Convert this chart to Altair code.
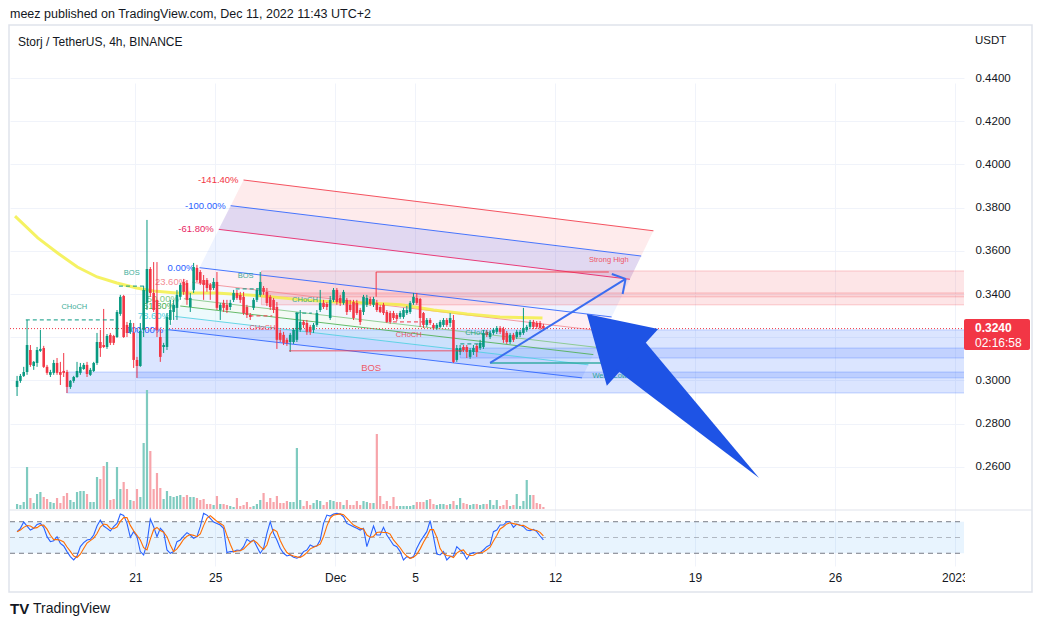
import altair as alt
import pandas as pd

FONT = "Liberation Sans"
TEXT = "#131722"
GREEN = "#089981"
RED = "#f23645"
BLUE = "#2962ff"

# ---------------- candles (4h, STORJ/USDT) ----------------
FIRST_DAY = 15 + 2 / 24          # Nov 15, 02:00 (x unit = day of November, Dec 1 = 31)
STEP_DAYS = 4 / 24

OPEN = [
    .2970, .2998, .3021, .3039, .3141, .3067, .3081, .3137, .3150, .3063,
    .3026, .3035, .3081, .3039, .3044, .3039, .2970, .2998, .3016, .3035,
    .3053, .3072, .3026, .3044, .3081, .3178, .3164, .3155, .3211, .3206,
    .3201, .3308, .3391, .3257, .3225, .3220, .3095, .3067, .3234, .3359,
    .3516, .3405, .3373, .3201, .3155, .3155, .3280, .3317, .3336, .3387,
    .3456, .3451, .3340, .3419, .3521, .3502, .3465, .3465, .3442, .3428,
    .3456, .3326, .3359, .3350, .3340, .3373, .3405, .3396, .3387, .3340,
    .3303, .3336, .3373, .3396, .3428, .3410, .3387, .3373, .3340, .3220,
    .3211, .3188, .3178, .3178, .3188, .3234, .3271, .3266, .3248, .3234,
    .3257, .3326, .3359, .3354, .3289, .3373, .3419, .3382, .3359, .3373,
    .3350, .3363, .3359, .3326, .3317, .3350, .3377, .3350, .3359, .3340,
    .3350, .3317, .3312, .3312, .3303, .3294, .3294, .3312, .3317, .3359,
    .3382, .3377, .3312, .3257, .3280, .3257, .3243, .3248, .3257, .3280,
    .3266, .3280, .3095, .3132, .3155, .3155, .3109, .3132, .3160, .3150,
    .3155, .3225, .3201, .3220, .3225, .3243, .3238, .3220, .3178, .3211,
    .3201, .3211, .3220, .3234, .3248, .3271, .3266, .3266, .3252,
]
CLOSE = [
    .2998, .3021, .3039, .3164, .3072, .3086, .3141, .3146, .3063, .3035,
    .3039, .3081, .3035, .3026, .3035, .2970, .2998, .3016, .3044, .3063,
    .3072, .3030, .3049, .3081, .3178, .3150, .3155, .3206, .3174, .3174,
    .3317, .3387, .3201, .3220, .3266, .3095, .3067, .3229, .3419, .3516,
    .3405, .3326, .3234, .3109, .3164, .3294, .3326, .3350, .3396, .3442,
    .3410, .3373, .3382, .3525, .3465, .3451, .3442, .3428, .3419, .3456,
    .3336, .3350, .3336, .3326, .3359, .3405, .3382, .3373, .3312, .3303,
    .3294, .3373, .3419, .3456, .3410, .3359, .3340, .3326, .3188, .3188,
    .3174, .3174, .3211, .3234, .3312, .3271, .3257, .3225, .3225, .3257,
    .3312, .3359, .3340, .3340, .3373, .3419, .3363, .3359, .3410, .3317,
    .3326, .3289, .3312, .3271, .3387, .3382, .3354, .3377, .3326, .3317,
    .3312, .3271, .3271, .3289, .3285, .3312, .3326, .3326, .3359, .3387,
    .3359, .3289, .3257, .3280, .3266, .3243, .3257, .3271, .3280, .3257,
    .3289, .3086, .3150, .3150, .3141, .3132, .3141, .3150, .3132, .3174,
    .3220, .3211, .3220, .3234, .3243, .3225, .3188, .3178, .3211, .3188,
    .3225, .3225, .3243, .3248, .3271, .3248, .3248, .3243, .3240,
]
HIGH = [
    .3021, .3030, .3063, .3280, .3164, .3090, .3155, .3234, .3160, .3072,
    .3049, .3095, .3104, .3086, .3127, .3049, .3002, .3021, .3086, .3081,
    .3081, .3086, .3058, .3086, .3220, .3234, .3331, .3215, .3220, .3211,
    .3326, .3396, .3396, .3271, .3280, .3266, .3109, .3266, .3437, .3743,
    .3525, .3548, .3548, .3234, .3174, .3312, .3373, .3373, .3419, .3451,
    .3470, .3465, .3405, .3544, .3535, .3511, .3488, .3474, .3451, .3474,
    .3502, .3359, .3373, .3373, .3373, .3419, .3419, .3410, .3410, .3350,
    .3312, .3382, .3428, .3502, .3437, .3428, .3396, .3382, .3363, .3234,
    .3225, .3197, .3220, .3243, .3317, .3326, .3280, .3280, .3257, .3266,
    .3326, .3419, .3373, .3363, .3391, .3428, .3428, .3396, .3419, .3382,
    .3373, .3373, .3373, .3336, .3396, .3396, .3387, .3387, .3373, .3350,
    .3359, .3326, .3322, .3322, .3312, .3322, .3336, .3345, .3368, .3405,
    .3405, .3382, .3317, .3289, .3289, .3266, .3266, .3280, .3289, .3289,
    .3312, .3303, .3164, .3164, .3164, .3164, .3150, .3164, .3169, .3188,
    .3234, .3234, .3229, .3243, .3252, .3252, .3248, .3229, .3220, .3220,
    .3234, .3234, .3336, .3257, .3280, .3280, .3275, .3275, .3262,
]
LOW = [
    .2928, .2989, .3016, .3026, .3063, .3049, .3063, .3132, .3058, .3026,
    .3016, .3026, .3026, .2979, .3016, .2942, .2961, .2989, .3012, .3026,
    .3049, .3016, .3021, .3039, .3072, .3109, .3150, .3146, .3164, .3164,
    .3197, .3299, .3197, .3201, .3215, .3058, .3012, .3063, .3201, .3326,
    .3387, .3317, .3201, .3086, .3127, .3141, .3257, .3280, .3280, .3373,
    .3396, .3350, .3317, .3405, .3456, .3442, .3373, .3410, .3373, .3419,
    .3326, .3280, .3317, .3312, .3326, .3363, .3373, .3359, .3303, .3289,
    .3280, .3326, .3363, .3387, .3396, .3345, .3326, .3312, .3146, .3178,
    .3164, .3160, .3132, .3169, .3178, .3225, .3243, .3211, .3211, .3220,
    .3248, .3317, .3331, .3326, .3280, .3363, .3350, .3345, .3350, .3303,
    .3317, .3280, .3303, .3257, .3303, .3340, .3345, .3340, .3317, .3312,
    .3303, .3266, .3262, .3280, .3275, .3285, .3285, .3303, .3308, .3350,
    .3350, .3248, .3243, .3248, .3257, .3234, .3234, .3243, .3248, .3248,
    .3248, .3081, .3086, .3118, .3132, .3104, .3100, .3118, .3109, .3141,
    .3146, .3201, .3192, .3211, .3215, .3215, .3174, .3169, .3169, .3178,
    .3192, .3201, .3211, .3225, .3238, .3238, .3238, .3234, .3229,
]
VOLUME_K = [
    50, 40, 70, 420, 110, 60, 150, 170, 120, 100,
    70, 60, 110, 60, 130, 160, 90, 70, 170, 180,
    180, 150, 70, 70, 320, 300, 430, 470, 90, 100,
    420, 200, 270, 200, 90, 80, 200, 120, 660, 1190,
    580, 200, 360, 210, 100, 180, 130, 120, 130, 140,
    120, 140, 120, 120, 110, 90, 100, 50, 50, 40,
    130, 50, 50, 40, 30, 20, 110, 30, 40, 70,
    20, 30, 50, 90, 160, 70, 110, 70, 130, 60,
    60, 80, 70, 70, 610, 90, 30, 80, 40, 60,
    90, 80, 40, 70, 90, 80, 70, 70, 40, 90,
    40, 40, 80, 40, 80, 70, 60, 60, 750, 130,
    50, 80, 30, 120, 30, 30, 30, 30, 30, 40,
    70, 70, 70, 90, 100, 50, 40, 50, 50, 40,
    50, 80, 40, 110, 60, 50, 40, 50, 50, 40,
    50, 50, 90, 40, 90, 30, 40, 90, 30, 40,
    150, 30, 80, 290, 140, 140, 60, 50, 20,
]
STOCH_K = [
    61.1, 67.4, 79.4, 71.8, 64.2, 67.4, 74.9, 76.8, 69.3, 51.6,
    42.1, 44.0, 51.6, 38.9, 33.9, 23.2, 13.7, 7.4, 14.9, 32.6,
    40.2, 45.3, 46.5, 54.7, 71.8, 83.2, 71.8, 67.4, 62.3, 70.5,
    76.8, 94.5, 92.0, 76.8, 50.3, 61.1, 51.6, 23.2, 16.8, 38.9,
    85.1, 70.5, 51.6, 67.4, 61.1, 26.3, 20.0, 23.2, 42.1, 45.3,
    52.8, 59.2, 54.7, 48.4, 51.6, 70.5, 95.8, 92.6, 86.3, 79.4,
    76.8, 73.7, 67.4, 21.3, 23.2, 23.2, 26.3, 25.1, 32.6, 46.5,
    42.1, 45.3, 32.6, 20.0, 29.5, 57.9, 80.0, 57.9, 45.3, 29.5,
    20.0, 14.9, 16.8, 12.4, 10.5, 13.7, 23.2, 26.3, 35.8, 32.6,
    33.9, 45.3, 76.8, 92.6, 90.7, 94.5, 95.8, 94.5, 89.5, 76.8,
    73.7, 70.5, 67.4, 64.2, 67.4, 32.6, 51.6, 71.8, 54.7, 54.7,
    69.3, 54.7, 45.3, 35.8, 32.6, 23.2, 7.4, 13.7, 10.5, 13.7,
    29.5, 42.1, 51.6, 61.1, 81.9, 51.6, 18.7, 16.8, 23.2, 7.4,
    13.7, 14.9, 32.6, 26.3, 20.0, 8.6, 18.7, 21.3, 20.0, 21.3,
    26.3, 32.6, 35.8, 61.1, 64.2, 73.7, 73.7, 80.0, 80.0, 69.3,
    75.6, 73.7, 70.5, 64.2, 62.9, 65.5, 61.1, 52.8, 45.3,
]
STOCH_D = [
    61.1, 64.3, 69.3, 72.9, 71.8, 67.8, 68.8, 73.0, 73.7, 65.9,
    54.3, 45.9, 45.9, 44.8, 41.5, 32.0, 23.6, 14.8, 12.0, 18.3,
    29.2, 39.4, 44.0, 48.8, 57.7, 69.9, 75.6, 74.1, 67.2, 66.7,
    69.9, 80.6, 87.8, 87.8, 73.0, 62.7, 54.3, 45.3, 30.5, 26.3,
    46.9, 64.8, 69.1, 63.2, 60.0, 51.6, 35.8, 23.2, 28.4, 36.9,
    46.7, 52.4, 55.6, 54.1, 51.6, 56.8, 72.6, 86.3, 91.6, 86.1,
    80.8, 76.6, 72.6, 54.1, 37.3, 22.6, 24.2, 24.9, 28.0, 34.7,
    40.4, 44.6, 40.0, 32.6, 27.4, 35.8, 55.8, 65.3, 61.1, 44.2,
    31.6, 21.5, 17.2, 14.7, 13.2, 12.2, 15.8, 21.1, 28.4, 31.6,
    34.1, 37.3, 52.0, 71.6, 86.7, 92.6, 93.7, 94.9, 93.3, 86.9,
    80.0, 73.7, 70.5, 67.4, 66.3, 54.7, 50.5, 52.0, 59.4, 60.4,
    59.6, 59.6, 56.4, 45.3, 37.9, 30.5, 21.1, 14.8, 10.5, 12.6,
    17.9, 28.4, 41.1, 51.6, 64.9, 64.9, 50.7, 29.0, 19.6, 15.8,
    14.8, 12.0, 20.4, 24.6, 26.3, 18.3, 15.8, 16.2, 20.0, 20.9,
    22.5, 26.7, 31.6, 43.2, 53.7, 66.3, 70.5, 75.8, 77.9, 76.4,
    75.0, 72.9, 73.3, 69.5, 65.9, 64.2, 63.2, 59.8, 53.1,
]

# yellow moving average (sampled along its course)
MA_DAY = [14.98, 16.12, 17.11, 18.10, 19.09, 20.08, 21.07, 21.91, 23.05, 25.03,
          27.36, 29.34, 30.97, 32.65, 34.29, 35.92, 37.60, 39.24, 41.37]
MA_PRICE = [.3761, .3660, .3590, .3525, .3479, .3451, .3428, .3414, .3405, .3405,
            .3391, .3373, .3363, .3359, .3350, .3326, .3308, .3294, .3289]

LAST_PRICE = 0.3240
COUNTDOWN = "02:16:58"

# axis ticks
TICK_DAYS = [21, 25, 31, 35, 42, 49, 56, 62]
TICK_LABELS = ["21", "25", "Dec", "5", "12", "19", "26", "2023"]
PRICE_TICKS = [0.26, 0.28, 0.30, 0.32, 0.34, 0.36, 0.38, 0.40, 0.42, 0.44]
HIDDEN_PRICE_LABEL = 0.32          # covered by the last-price tag
STOCH_BANDS = [80, 20]
STOCH_MID = [50]

# fib channel: 0% and 100% anchor lines (start, end)
FIB0_DAY = [24.21, 44.83]
FIB0_PRICE = [.3522, .3294]
FIB1_DAY = [22.65, 43.35]
FIB1_PRICE = [.3235, .3012]
FIB_LEVELS = [-1.414, -1.0, -0.618, 0.0, 0.236, 0.5, 0.618, 0.786, 1.0]
FIB_LABELS = ["-141.40%", "-100.00%", "-61.80%", "0.00%", "23.60%", "50.00%", "61.80%", "78.60%", "100.00%"]
FIB_COLORS = ["#f23645", "#2962ff", "#e91e63", "#2962ff", "#f28b93", "#81c784", "#4caf50", "#4dd0e1", "#2962ff"]
FIB_FILL_COLORS = ["#f23645", "#673ab7", "#2962ff", "#e91e63", "#2962ff", "#4caf50", "#00bcd4", "#2962ff"]
FIB_FILL_OPACITY = [0.10, 0.20, 0.08, 0.07, 0.05, 0.06, 0.07, 0.10]

# zones (supply / demand boxes extending right)
ZONE_START = [27.31, 27.31, 21.07, 17.56, 37.26]
ZONE_TOP = [.3507, .3405, .3234, .3039, .3150]
ZONE_BOTTOM = [.3350, .3387, .3012, .2942, .3104]
ZONE_COLOR = [RED, RED, BLUE, BLUE, BLUE]
ZONE_OPACITY = [0.13, 0.10, 0.17, 0.17, 0.14]

# structure lines (dashed)
DASH_DAY0 = [15.52, 20.18, 26.02, 29.00, 26.71, 33.89, 37.26]
DASH_DAY1 = [20.03, 21.56, 27.21, 29.83, 27.85, 35.63, 38.40]
DASH_PRICE = [.3280, .3437, .3424, .3312, .3299, .3271, .3169]
DASH_COLOR = [GREEN, GREEN, GREEN, GREEN, RED, RED, GREEN]

# solid lines: BOS, weak low, strong high (h + v), thin blue arrow (shaft + 2 arms)
LINE_DAY0 = [28.69, 38.75, 33.05, 33.05, 38.75, 45.53, 45.53]
LINE_DAY1 = [37.41, 44.69, 44.69, 33.05, 45.53, 44.84, 45.38]
LINE_PRICE0 = [.3137, .3081, .3502, .3502, .3081, .3470, .3470]
LINE_PRICE1 = [.3137, .3081, .3502, .3387, .3470, .3493, .3400]
LINE_COLOR = [RED, "#26a69a", RED, RED, "#3a6df0", "#3a6df0", "#3a6df0"]
LINE_WIDTH = [1.5, 1.5, 1.2, 1.2, 2.0, 2.0, 2.0]
LINE_OPACITY = [0.55, 0.9, 0.85, 0.85, 1.0, 1.0, 1.0]

LABEL_TEXT = ["CHoCH", "BOS", "BOS", "CHoCH", "CHoCH", "CHoCH", "CHoCH", "BOS", "Weak Low", "Strong High"]
LABEL_DAY = [17.95, 20.82, 26.52, 29.49, 27.36, 34.68, 38.15, 32.80, 44.74, 44.69]
LABEL_PRICE = [.3340, .3498, .3484, .3373, .3243, .3211, .3220, .3058, .3021, .3558]
LABEL_COLOR = [GREEN, GREEN, GREEN, GREEN, RED, RED, GREEN, RED, GREEN, RED]
LABEL_SIZE = [7.5, 7.5, 7.5, 7.5, 7.5, 7.5, 7.5, 9.5, 7.5, 7.5]

# big filled arrow: tip, right wing, right notch, tail, left notch, left wing
BIG_ARROW_DAY = [43.59, 47.16, 46.47, 52.21, 45.08, 44.59]
BIG_ARROW_PRICE = [.3308, .3238, .3183, .2549, .3049, .2975]

# ---------------- build tables ----------------
N = len(OPEN)
candles = pd.DataFrame({
    "day": [FIRST_DAY + i * STEP_DAYS for i in range(N)],
    "open": OPEN, "close": CLOSE,
    "high": [max(h, o, c) for h, o, c in zip(HIGH, OPEN, CLOSE)],
    "low": [min(l, o, c) for l, o, c in zip(LOW, OPEN, CLOSE)],
    "vol": VOLUME_K, "k": STOCH_K, "d": STOCH_D,
})
candles["col"] = [GREEN if c >= o else RED for o, c in zip(OPEN, CLOSE)]
candles["vcol"] = ["#7fcbc0" if c >= o else "#f7a4aa" for o, c in zip(OPEN, CLOSE)]


def fib_point(level, idx):
    d = FIB0_DAY[idx] + level * (FIB1_DAY[idx] - FIB0_DAY[idx])
    p = FIB0_PRICE[idx] + level * (FIB1_PRICE[idx] - FIB0_PRICE[idx])
    return d, p


fib_rows = []
for lv, lab, col in zip(FIB_LEVELS, FIB_LABELS, FIB_COLORS):
    d0, p0 = fib_point(lv, 0)
    d1, p1 = fib_point(lv, 1)
    fib_rows.append(dict(d0=d0, p0=p0, d1=d1, p1=p1, label=lab, color=col))
fib_df = pd.DataFrame(fib_rows)


def polygon_rows(pid, pts, color, op):
    xs = sorted(set(p[0] for p in pts))
    rows = []
    n = len(pts)
    for x in xs:
        ys = []
        for i in range(n):
            (x1, y1), (x2, y2) = pts[i], pts[(i + 1) % n]
            if min(x1, x2) - 1e-9 <= x <= max(x1, x2) + 1e-9:
                if abs(x2 - x1) < 1e-12:
                    ys += [y1, y2]
                else:
                    ys.append(y1 + (y2 - y1) * (x - x1) / (x2 - x1))
        rows.append(dict(pid=pid, day=x, top=max(ys), bottom=min(ys), color=color, op=op))
    return rows


fill_rows = []
for i in range(len(FIB_LEVELS) - 1):
    a, b = FIB_LEVELS[i], FIB_LEVELS[i + 1]
    pts = [fib_point(a, 0), fib_point(a, 1), fib_point(b, 1), fib_point(b, 0)]
    fill_rows += polygon_rows(f"f{i}", pts, FIB_FILL_COLORS[i], FIB_FILL_OPACITY[i])
fill_df = pd.DataFrame(fill_rows)

A = list(zip(BIG_ARROW_DAY, BIG_ARROW_PRICE))
arrow_rows = polygon_rows("head", [A[0], A[1], A[5]], "#1e53e5", 1.0)
arrow_rows += polygon_rows("shaft", [A[4], A[2], A[3]], "#1e53e5", 1.0)
arrow_df = pd.DataFrame(arrow_rows)

zone_df = pd.DataFrame({"start": ZONE_START, "end": [70] * len(ZONE_START), "top": ZONE_TOP,
                        "bottom": ZONE_BOTTOM, "color": ZONE_COLOR, "op": ZONE_OPACITY})
dash_df = pd.DataFrame({"d0": DASH_DAY0, "d1": DASH_DAY1, "p0": DASH_PRICE, "p1": DASH_PRICE, "color": DASH_COLOR})
line_df = pd.DataFrame({"d0": LINE_DAY0, "d1": LINE_DAY1, "p0": LINE_PRICE0, "p1": LINE_PRICE1,
                        "color": LINE_COLOR, "w": LINE_WIDTH, "op": LINE_OPACITY})
label_df = pd.DataFrame({"day": LABEL_DAY, "p": LABEL_PRICE, "text": LABEL_TEXT,
                         "color": LABEL_COLOR, "size": LABEL_SIZE})
ma_df = pd.DataFrame({"day": MA_DAY, "p": MA_PRICE})
one = pd.DataFrame({"a": [0]})

# ---------------- scales / axes ----------------
W, H = 954, 540
XS = alt.Scale(domain=[14.98, 62.21], nice=False, zero=False)
PS = alt.Scale(domain=[0.2405, 0.46407], range=[483, 0], nice=False, zero=False)
VS = alt.Scale(domain=[0, 1210], range=[483, 362], nice=False)
RS = alt.Scale(domain=[0, 100], range=[537.8, 485.2], nice=False)

label_expr = ""
for dd, ll in zip(TICK_DAYS, TICK_LABELS):
    label_expr += f"datum.value == {dd} ? '{ll}' : "
label_expr += "''"

price_label_expr = f"abs(datum.value - {HIDDEN_PRICE_LABEL}) < 0.0001 ? '' : format(datum.value, '.4f')"

XAXIS = alt.Axis(values=TICK_DAYS, labelExpr=label_expr, grid=True, gridColor="#f0f3fa",
                 ticks=False, domain=False, labelFontSize=12, labelColor=TEXT, labelFont=FONT,
                 labelPadding=6, title=None, labelFlush=False, labelOverlap=False)
PAXIS = alt.Axis(orient="right", values=PRICE_TICKS, labelExpr=price_label_expr, grid=True, gridColor="#f0f3fa",
                 ticks=False, domain=False, labelPadding=11, labelFontSize=11.5, labelColor=TEXT,
                 labelFont=FONT, title=None)


def X(f):
    return alt.X(f, type="quantitative", scale=XS, axis=XAXIS)


def Y(f, scale=PS, axis=None):
    return alt.Y(f, type="quantitative", scale=scale, axis=axis)


def px_text(s, x, y, size, color=TEXT, weight="normal", align="left"):
    return alt.Chart(one).mark_text(text=s, fontSize=size, font=FONT, color=color, fontWeight=weight,
                                    align=align, baseline="middle").encode(x=alt.value(x), y=alt.value(y))


layers = []
# fib channel fills
layers.append(alt.Chart(fill_df).mark_area(clip=True, interpolate="linear").encode(
    x=X("day"), y=Y("top"), y2="bottom", detail="pid:N",
    color=alt.Color("color:N", scale=None), opacity=alt.Opacity("op:Q", scale=None)))
# zones
layers.append(alt.Chart(zone_df).mark_rect(clip=True, strokeWidth=1, strokeOpacity=0.25).encode(
    x=X("start"), x2="end", y=Y("top"), y2="bottom",
    fill=alt.Fill("color:N", scale=None), stroke=alt.Stroke("color:N", scale=None),
    fillOpacity=alt.FillOpacity("op:Q", scale=None)))
# stochastic band
layers.append(alt.Chart(pd.DataFrame({"top": [STOCH_BANDS[0]], "bottom": [STOCH_BANDS[1]]})).mark_rect(
    color="#2196f3", opacity=0.1).encode(x=alt.value(0), x2=alt.value(W), y=Y("top", RS), y2="bottom"))
layers.append(alt.Chart(pd.DataFrame({"lv": STOCH_BANDS})).mark_rule(
    color="#787b86", strokeDash=[5, 4], strokeWidth=1).encode(y=Y("lv", RS), x=alt.value(0), x2=alt.value(W)))
layers.append(alt.Chart(pd.DataFrame({"lv": STOCH_MID})).mark_rule(
    color="#787b86", strokeDash=[5, 4], strokeWidth=1, opacity=0.5).encode(y=Y("lv", RS), x=alt.value(0), x2=alt.value(W)))
# fib lines + labels
layers.append(alt.Chart(fib_df).mark_rule(clip=True, strokeWidth=1, opacity=0.85).encode(
    x=X("d0"), x2="d1", y=Y("p0"), y2="p1", color=alt.Color("color:N", scale=None)))
layers.append(alt.Chart(fib_df).mark_text(align="right", baseline="middle", dx=-5, fontSize=9.5, font=FONT).encode(
    x=X("d0"), y=Y("p0"), text="label:N", color=alt.Color("color:N", scale=None)))
# last price dotted line
layers.append(alt.Chart(pd.DataFrame({"p": [LAST_PRICE]})).mark_rule(
    color=RED, strokeDash=[1, 2], strokeWidth=1).encode(y=Y("p"), x=alt.value(0), x2=alt.value(W)))
# volume
layers.append(alt.Chart(candles).mark_bar(width=2.2, clip=True).encode(
    x=X("day"), y=Y("vol", VS), color=alt.Color("vcol:N", scale=None)))
# moving average
layers.append(alt.Chart(ma_df).mark_line(color="#f3ef3c", strokeWidth=3, opacity=0.8, clip=True).encode(
    x=X("day"), y=Y("p")))
# candles
layers.append(alt.Chart(candles).mark_rule(strokeWidth=1, clip=True).encode(
    x=X("day"), y=Y("low", PS, PAXIS), y2="high", color=alt.Color("col:N", scale=None)))
layers.append(alt.Chart(candles).mark_bar(width=2.6, clip=True).encode(
    x=X("day"), y=Y("open"), y2="close", color=alt.Color("col:N", scale=None)))
# structure annotations
layers.append(alt.Chart(dash_df).mark_rule(clip=True, strokeDash=[4, 3], strokeWidth=1.2, opacity=0.8).encode(
    x=X("d0"), x2="d1", y=Y("p0"), y2="p1", color=alt.Color("color:N", scale=None)))
layers.append(alt.Chart(line_df).mark_rule(clip=True).encode(
    x=X("d0"), x2="d1", y=Y("p0"), y2="p1", color=alt.Color("color:N", scale=None),
    strokeWidth=alt.StrokeWidth("w:Q", scale=None), opacity=alt.Opacity("op:Q", scale=None)))
layers.append(alt.Chart(label_df).mark_text(font=FONT, opacity=0.8, baseline="middle").encode(
    x=X("day"), y=Y("p"), text="text:N", color=alt.Color("color:N", scale=None),
    size=alt.Size("size:Q", scale=None)))
# big arrow
layers.append(alt.Chart(arrow_df).mark_area(clip=True, interpolate="linear").encode(
    x=X("day"), y=Y("top"), y2="bottom", detail="pid:N", color=alt.Color("color:N", scale=None)))
# stochastic RSI lines
layers.append(alt.Chart(candles).mark_line(color=BLUE, strokeWidth=1.1).encode(x=X("day"), y=Y("k", RS)))
layers.append(alt.Chart(candles).mark_line(color="#ff6d00", strokeWidth=1.1).encode(x=X("day"), y=Y("d", RS)))

# frame, separators, masks
layers.append(alt.Chart(one).mark_rect(fill="white").encode(
    x=alt.value(W + 1), x2=alt.value(1021), y=alt.value(H + 1), y2=alt.value(565)))
layers.append(alt.Chart(one).mark_rule(color="#e0e3eb", strokeWidth=1).encode(
    x=alt.value(-1), x2=alt.value(1022), y=alt.value(484)))
layers.append(alt.Chart(one).mark_rect(fill="white", fillOpacity=0, stroke="#e0e3eb", strokeWidth=1.5).encode(
    x=alt.value(-1), x2=alt.value(1022), y=alt.value(-1), y2=alt.value(566)))
# price label box
layers.append(alt.Chart(one).mark_rect(color=RED, cornerRadius=2).encode(
    x=alt.value(W), x2=alt.value(1020), y=alt.value(293), y2=alt.value(324)))
layers.append(px_text(f"{LAST_PRICE:.4f}", 965, 302, 12, "white", "bold"))
layers.append(px_text(COUNTDOWN, 965, 317, 12, "white"))
# texts
layers.append(px_text("meez published on TradingView.com, Dec 11, 2022 11:43 UTC+2", 0, -12, 12.5))
layers.append(px_text("Storj / TetherUS, 4h, BINANCE", 8, 16, 12))
layers.append(px_text("USDT", 965, 15, 11.5))
layers.append(px_text("TV", 0, 583, 15, TEXT, "bold"))
layers.append(px_text("TradingView", 23, 583, 14))

chart = alt.layer(*layers).resolve_scale(y="independent").properties(
    width=W, height=H,
    padding={"left": 2, "top": 18, "right": 70, "bottom": 61},
    autosize=alt.AutoSizeParams(type="none"),
    background="white",
).configure_view(stroke=None)

chart.save("out.html", embed_options={"renderer": "svg", "actions": False})
